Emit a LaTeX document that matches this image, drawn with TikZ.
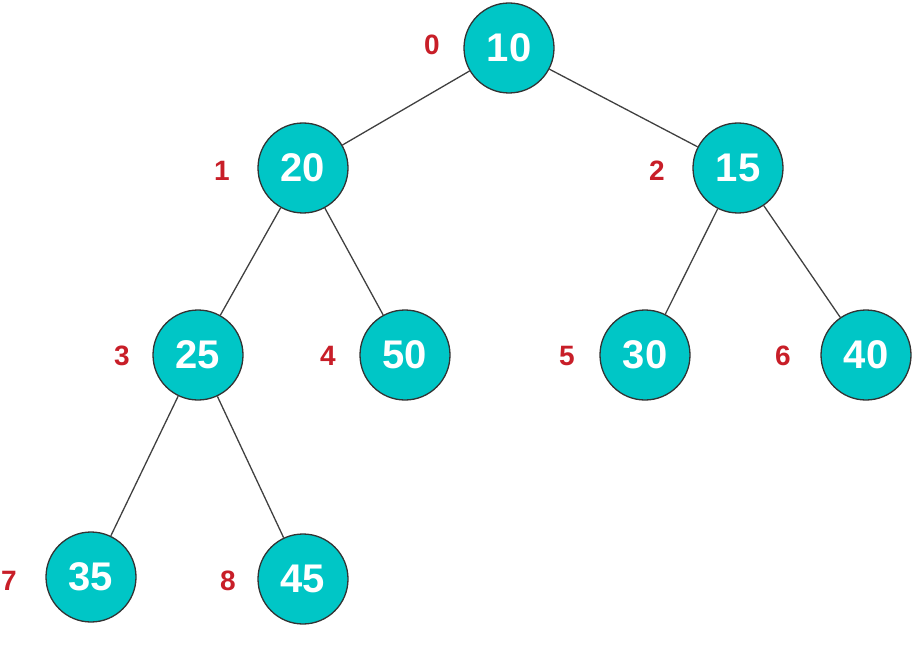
\documentclass[tikz,border=0pt]{standalone}
\usepackage{fontspec}
\setmainfont{Liberation Sans}
\definecolor{heapteal}{RGB}{0,198,198}
\definecolor{idxred}{RGB}{200,30,40}
\tikzset{
    heapnode/.style={circle, draw=black!80, line width=1.3pt, fill=heapteal,
        minimum size=90pt, inner sep=0pt, text=white,
        font=\fontsize{40}{40}\selectfont\bfseries},
    idx/.style={text=idxred, font=\fontsize{28}{28}\selectfont\bfseries},
    edge/.style={draw=black!75, line width=1.3pt}
}
\begin{document}
\begin{tikzpicture}[x=1pt, y=-1pt]
    \useasboundingbox (0,0) rectangle (915,647);

    \node[heapnode] (n10) at (509,48) {10};
    \node[heapnode] (n20) at (303,168) {20};
    \node[heapnode] (n15) at (738,168) {15};
    \node[heapnode] (n25) at (198,355) {25};
    \node[heapnode] (n50) at (405,355) {50};
    \node[heapnode] (n30) at (645,355) {30};
    \node[heapnode] (n40) at (866,355) {40};
    \node[heapnode] (n35) at (91,577) {35};
    \node[heapnode] (n45) at (303,579) {45};

    % array indices
    \node[idx] (i0) at (432,45) {0};
    \node[idx] (i1) at (222,171) {1};
    \node[idx] (i2) at (657,171) {2};
    \node[idx] (i3) at (122,356) {3};
    \node[idx] (i4) at (328,356) {4};
    \node[idx] (i5) at (567,356) {5};
    \node[idx] (i6) at (783,356) {6};
    \node[idx] (i7) at (9,581) {7};
    \node[idx] (i8) at (228,581) {8};

    \draw[edge] (n10) -- (n20);
    \draw[edge] (n10) -- (n15);
    \draw[edge] (n20) -- (n25);
    \draw[edge] (n20) -- (n50);
    \draw[edge] (n15) -- (n30);
    \draw[edge] (n15) -- (n40);
    \draw[edge] (n25) -- (n35);
    \draw[edge] (n25) -- (n45);
\end{tikzpicture}
\end{document}
